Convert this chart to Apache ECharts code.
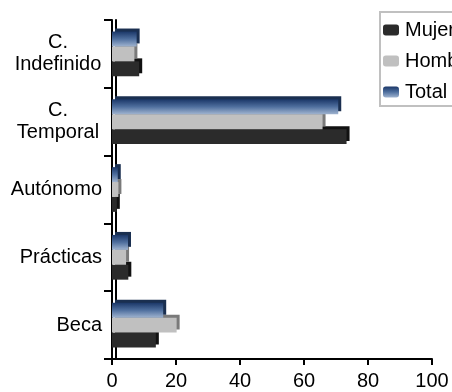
<!DOCTYPE html>
<html>
<head>
<meta charset="utf-8">
<script src="https://cdn.jsdelivr.net/npm/echarts@6/dist/echarts.min.js"></script>
<style>
html,body{margin:0;padding:0;background:#fff;}
#c{width:452px;height:392px;}
</style>
</head>
<body>
<div id="c"></div>
<script>
var categories = ['Beca', 'Prácticas', 'Autónomo', 'C.\nTemporal', 'C.\nIndefinido'];
var mujer   = [13.7, 5.1, 1.5, 73.3, 8.5];
var hombres = [20.2, 4.4, 2.0, 65.8, 7.0];
var total   = [16.0, 5.0, 1.8, 70.7, 7.7];
var xTicks  = [0, 20, 40, 60, 80, 100];

var FONT = 'Liberation Sans, Arial, sans-serif';
var totalGrad = new echarts.graphic.LinearGradient(0, 0, 0, 1, [
  {offset: 0, color: '#1b3768'},
  {offset: 0.5, color: '#4f6f9e'},
  {offset: 1, color: '#9fb3cf'}
]);

var chart = echarts.init(document.getElementById('c'), null, {renderer: 'canvas'});
chart.setOption({
  animation: false,
  backgroundColor: '#ffffff',
  textStyle: {fontFamily: FONT},
  grid: {left: 112, right: 20, top: 20, bottom: 33, containLabel: false},
  legend: {
    orient: 'vertical',
    left: 380, top: 12,
    padding: [8, 20, 4, 3],
    borderColor: '#c0c0c0', borderWidth: 2,
    itemWidth: 16, itemHeight: 11, itemGap: 11,
    textStyle: {fontFamily: FONT, fontSize: 20, color: '#000', padding: [0,0,0,1]},
    data: [
      {name: 'Mujer', itemStyle: {color: '#2b2b2b'}},
      {name: 'Hombres', itemStyle: {color: '#c0c0c0'}},
      {name: 'Total', itemStyle: {color: totalGrad}}
    ]
  },
  xAxis: {
    type: 'value', min: xTicks[0], max: xTicks[xTicks.length-1], interval: 20,
    axisLine: {show: true, lineStyle: {color: '#000', width: 2}},
    axisTick: {show: true, length: 6, lineStyle: {color: '#000', width: 2}},
    axisLabel: {fontFamily: FONT, fontSize: 20, color: '#000', margin: 12},
    splitLine: {show: false}
  },
  yAxis: [{
    type: 'category', data: categories, position: 'left',
    axisLine: {show: true, lineStyle: {color: '#000', width: 2}},
    axisTick: {show: true, length: 8, lineStyle: {color: '#000', width: 2}},
    axisLabel: {
      fontFamily: FONT, fontSize: 20, color: '#000', margin: 10, align: 'right',
      formatter: function (v) { return v.indexOf('\n') >= 0 ? '{c|' + v + '}' : v; },
      rich: {c: {fontFamily: FONT, fontSize: 20, color: '#000', lineHeight: 22, width: 88, align: 'center'}}
    }
  }, {
    type: 'category', data: categories, position: 'left', offset: -4,
    axisLine: {show: true, lineStyle: {color: '#000', width: 2}},
    axisTick: {show: false}, axisLabel: {show: false}
  }],
  series: [
    {name: 'Total', type: 'bar', data: total, barGap: '0%', barCategoryGap: '34%', z: 4,
     itemStyle: {color: totalGrad, shadowColor: '#1a2f50', shadowOffsetX: 3, shadowOffsetY: -3, shadowBlur: 0}},
    {name: 'Hombres', type: 'bar', data: hombres, barGap: '0%', barCategoryGap: '34%', z: 3,
     itemStyle: {color: '#c0c0c0', shadowColor: '#7a7a7a', shadowOffsetX: 3, shadowOffsetY: -3, shadowBlur: 0}},
    {name: 'Mujer', type: 'bar', data: mujer, barGap: '0%', barCategoryGap: '34%', z: 2,
     itemStyle: {color: '#2b2b2b', shadowColor: '#111111', shadowOffsetX: 3, shadowOffsetY: -3, shadowBlur: 0}}
  ]
});
</script>
</body>
</html>
